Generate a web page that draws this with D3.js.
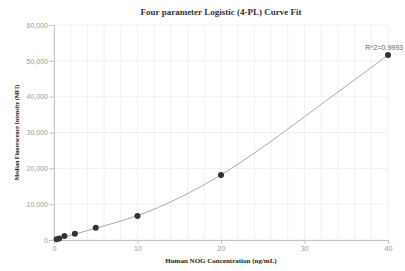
<!DOCTYPE html>
<html>
<head>
<meta charset="utf-8">
<script src="https://cdn.jsdelivr.net/npm/d3@7"></script>
<style>
  body { margin: 0; background: #fff; }
  svg { display: block; }
</style>
</head>
<body>
<div id="chart"></div>
<script>
// Measured standards (concentration ng/mL, MFI)
var concentrations = [0.3125, 0.625, 1.25, 2.5, 5, 10, 20, 40];
var mfiValues = [200, 400, 1100, 1750, 3450, 6700, 18150, 51650];

// Fitted 4-PL curve
var fitX = [0, 2.5, 5, 7.5, 10, 12.5, 15, 17.5, 20, 22.5, 25, 27.5, 30, 32.5, 35, 37.5, 40];
var fitY = [150, 1650, 3300, 4950, 6800, 9100, 11800, 14800, 18150, 21900, 25900, 30100, 34400, 38700, 43000, 47300, 51650];

var xTicks = [0, 10, 20, 30, 40];
var yTicks = [0, 10000, 20000, 30000, 40000, 50000, 60000];
var xGrid = d3.range(0, 41, 2);
var rSquaredLabel = "R^2=0.9993";
var title = "Four parameter Logistic (4-PL) Curve Fit";
var xTitle = "Human NOG Concentration (ng/mL)";
var yTitle = "Median Fluorescence Intensity (MFI)";

var w = 405;
var h = 271;
var margin = { top: 25, right: 17, bottom: 31, left: 54 };

var svg = d3.select("#chart").append("svg")
  .attr("width", w)
  .attr("height", h);

var x = d3.scaleLinear().domain([0, 40]).range([margin.left, w - margin.right]);
var y = d3.scaleLinear().domain([0, 60000]).range([h - margin.bottom, margin.top]);

// grid
svg.append("g").selectAll("line.vg")
  .data(xGrid)
  .enter().append("line")
  .attr("x1", function(d) { return x(d); })
  .attr("x2", function(d) { return x(d); })
  .attr("y1", y(0))
  .attr("y2", y(60000))
  .attr("stroke", "#eef0f6")
  .attr("stroke-width", 1);

svg.append("g").selectAll("line.hg")
  .data(yTicks)
  .enter().append("line")
  .attr("x1", x(0))
  .attr("x2", x(40))
  .attr("y1", function(d) { return y(d); })
  .attr("y2", function(d) { return y(d); })
  .attr("stroke", "#eef0f6")
  .attr("stroke-width", 1);

// axes
var xAxis = d3.axisBottom(x).tickValues(xTicks).tickSize(4).tickSizeOuter(0);
var yAxis = d3.axisLeft(y).tickValues(yTicks).tickSize(5).tickSizeOuter(0)
  .tickFormat(d3.format(",d"));

var gx = svg.append("g")
  .attr("transform", "translate(0," + y(0) + ")")
  .call(xAxis);
var gy = svg.append("g")
  .attr("transform", "translate(" + x(0) + ",0)")
  .call(yAxis);

[gx, gy].forEach(function(g) {
  g.select(".domain").attr("stroke", "#c0c4cc");
  g.selectAll(".tick line").attr("stroke", "#c0c4cc");
  g.selectAll(".tick text")
    .attr("fill", "#999")
    .style("font-family", "'Liberation Sans', Arial, sans-serif")
    .style("font-size", "7px");
});
gx.selectAll(".tick text").attr("dy", "0.95em").attr("y", 4);
gy.selectAll(".tick text").attr("x", -6);

// fitted curve
var line = d3.line()
  .x(function(d) { return x(d[0]); })
  .y(function(d) { return y(d[1]); })
  .curve(d3.curveCatmullRom.alpha(0.5));

svg.append("path")
  .datum(d3.zip(fitX, fitY))
  .attr("fill", "none")
  .attr("stroke", "#aaa")
  .attr("stroke-width", 1)
  .attr("d", line);

// points
var points = d3.zip(concentrations, mfiValues);
svg.selectAll(".dot")
  .data(points)
  .enter().append("circle")
  .attr("class", "dot")
  .attr("cx", function(d) { return x(d[0]); })
  .attr("cy", function(d) { return y(d[1]); })
  .attr("r", 3)
  .attr("fill", "#333");

// R^2 label at last point (kept inside the frame)
var last = points[points.length - 1];
svg.append("text")
  .attr("x", w - 2)
  .attr("y", y(last[1]) - 5)
  .attr("text-anchor", "end")
  .attr("fill", "#666")
  .style("font-family", "'Liberation Sans', Arial, sans-serif")
  .style("font-size", "7px")
  .text(rSquaredLabel);

// titles
svg.append("text")
  .attr("x", (x(0) + x(40)) / 2)
  .attr("y", 15)
  .attr("text-anchor", "middle")
  .attr("fill", "#333")
  .style("font-family", "'Liberation Serif', 'Times New Roman', serif")
  .style("font-weight", "bold")
  .style("font-size", "9px")
  .text(title);

svg.append("text")
  .attr("x", (x(0) + x(40)) / 2)
  .attr("y", 263)
  .attr("text-anchor", "middle")
  .attr("fill", "#222")
  .style("font-family", "'Liberation Serif', 'Times New Roman', serif")
  .style("font-weight", "bold")
  .style("font-size", "7px")
  .text(xTitle);

svg.append("text")
  .attr("transform", "translate(19," + ((y(0) + y(60000)) / 2) + ") rotate(-90)")
  .attr("text-anchor", "middle")
  .attr("fill", "#222")
  .style("font-family", "'Liberation Serif', 'Times New Roman', serif")
  .style("font-weight", "bold")
  .style("font-size", "6px")
  .text(yTitle);
</script>
</body>
</html>
